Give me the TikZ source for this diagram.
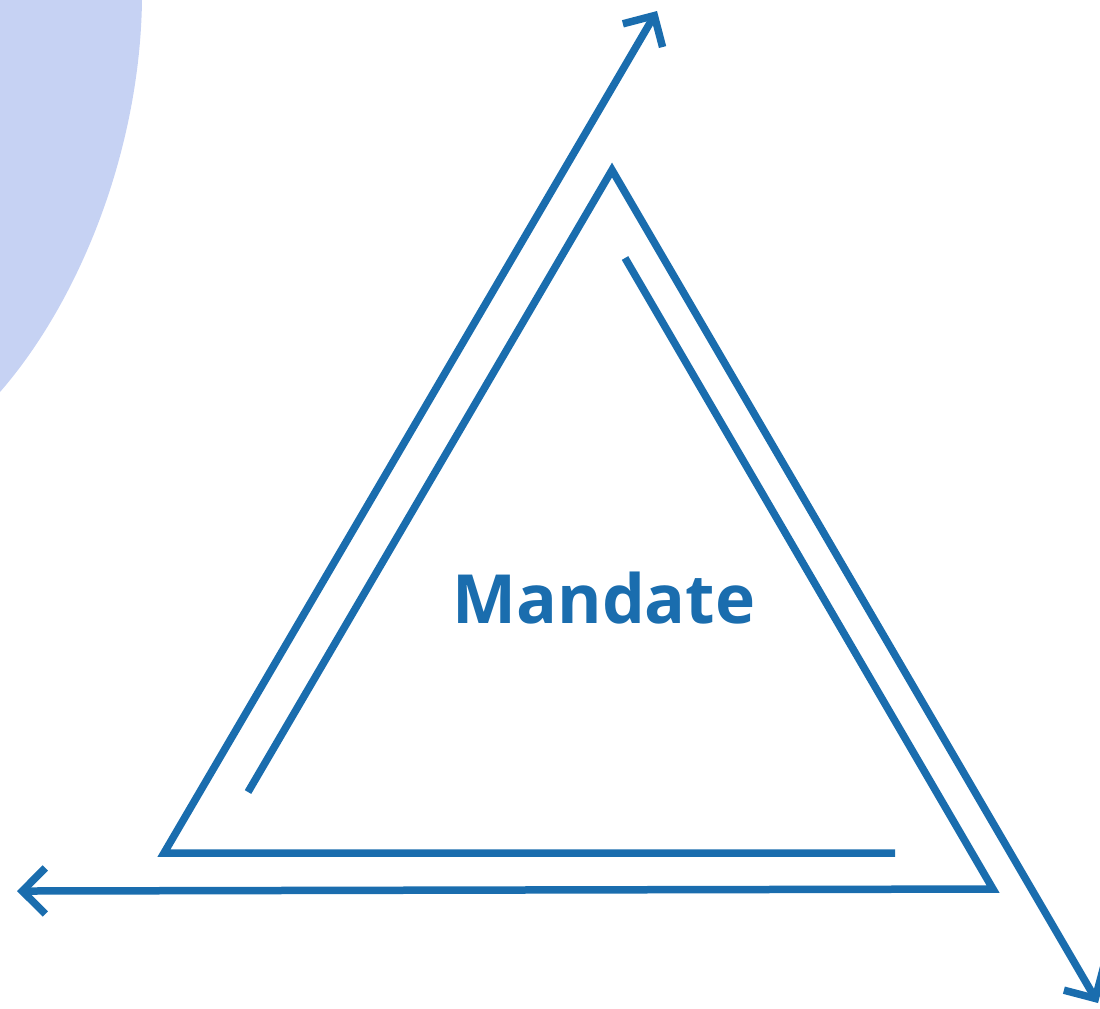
\documentclass[tikz,border=0pt]{standalone}
\usepackage{fontspec}
\setmainfont{Open Sans}
\usetikzlibrary{arrows.meta}
\definecolor{accent}{HTML}{1A6DAE}
\definecolor{softblob}{HTML}{C6D2F3}

\begin{document}
\begin{tikzpicture}[
	x=0.1mm, y=-0.1mm,
	>={Straight Barb[length=2.3mm, width=4.6mm]},
	stroke/.style={draw=accent, line width=0.75mm},
	header/.style={font=\fontsize{19.3}{23}\selectfont\bfseries, text=accent}
	]
	\useasboundingbox (0,0) rectangle (1100,1008);
	
	% ==========================================
	% BACKGROUND: soft blob in the corner
	% ==========================================
	\fill[softblob] (0,0) -- (142,0) .. controls (140,150) and (80,300) .. (0,392) -- cycle;
	
	% ==========================================
	% CORNERS AND LINE ENDS
	% ==========================================
	\coordinate (apex)   at (612,170);
	\coordinate (cornL)  at (164,853);
	\coordinate (cornR)  at (993,889);
	
	% Short inner ends
	\coordinate (innerL) at (248,792);
	\coordinate (innerR) at (625,258);
	\coordinate (innerB) at (895,853);
	
	% Arrow tips
	\coordinate (tipT)   at (657,11);
	\coordinate (tipR)   at (1098,1003);
	\coordinate (tipL)   at (17,891);
	
	% ==========================================
	% THREE INTERLOCKED STROKES
	% ==========================================
	\draw[stroke, ->] (innerB) -- (cornL) -- (tipT);
	\draw[stroke, ->] (innerL) -- (apex) -- (tipR);
	\draw[stroke, ->] (innerR) -- (cornR) -- (tipL);
	
	% Label in the middle
	\node[header] (mandate) at (604,598) {Mandate};
\end{tikzpicture}
\end{document}
